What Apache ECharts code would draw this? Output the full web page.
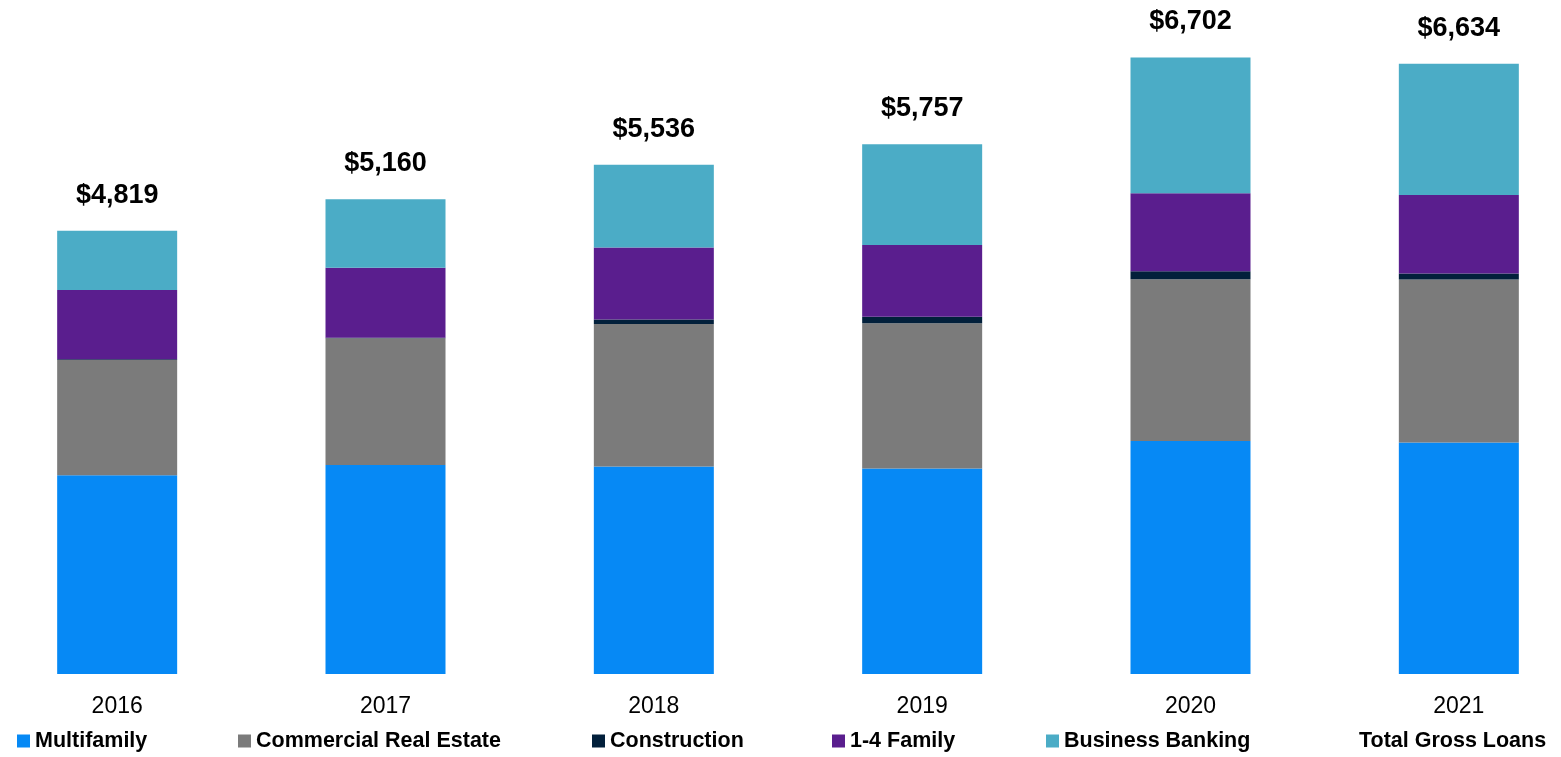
<!DOCTYPE html>
<html>
<head>
<meta charset="utf-8">
<script src="https://cdn.jsdelivr.net/npm/echarts@6/dist/echarts.min.js"></script>
<style>
  html, body { margin: 0; padding: 0; background: #fff; }
  #chart { width: 1561px; height: 757px; }
</style>
</head>
<body>
<div id="chart"></div>
<script>
// loan mix by year ($ millions)
const years = ['2016', '2017', '2018', '2019', '2020', '2021']
const multifamily = [2160, 2272, 2255, 2233, 2533, 2515]
const commercialRealEstate = [1252, 1378, 1549, 1580, 1757, 1773]
const construction = [10, 5, 50, 70, 87, 65]
const oneToFourFamily = [752, 760, 783, 779, 848, 853]
const businessBanking = [645, 745, 899, 1095, 1477, 1428]
const totalGrossLoans = [4819, 5160, 5536, 5757, 6702, 6634]

const font = '"Liberation Sans", Arial, sans-serif'

const chart = echarts.init(document.getElementById('chart'))

function stacked(name, data, color) {
  return {
    name: name,
    type: 'bar',
    stack: 'loans',
    barWidth: 120,
    barGap: '-100%',
    data: data,
    itemStyle: { color: color }
  }
}

function legendAt(name, left) {
  return {
    data: [name],
    left: left,
    top: 730,
    padding: 0,
    itemWidth: 13,
    itemHeight: 13,
    icon: 'rect',
    textStyle: { fontFamily: font, fontWeight: 'bold', fontSize: 21.5, color: '#000' }
  }
}

const option = {
  animation: false,
  grid: { top: 30, bottom: 83, left: -17, right: -32, outerBoundsMode: 'none' },
  legend: [
    legendAt('Multifamily', 17),
    legendAt('Commercial Real Estate', 238),
    legendAt('Construction', 592),
    legendAt('1-4 Family', 832),
    legendAt('Business Banking', 1046),
    legendAt('Total Gross Loans', 1341)
  ],
  xAxis: {
    type: 'category',
    data: years,
    axisLine: { show: false },
    axisTick: { show: false },
    axisLabel: { margin: 21, fontFamily: font, fontSize: 23, color: '#000' }
  },
  yAxis: {
    type: 'value',
    min: 0,
    max: 7000,
    show: false
  },
  series: [
    stacked('Multifamily', multifamily, '#0689F5'),
    stacked('Commercial Real Estate', commercialRealEstate, '#7B7B7B'),
    stacked('Construction', construction, '#02203B'),
    stacked('1-4 Family', oneToFourFamily, '#5A1E8E'),
    stacked('Business Banking', businessBanking, '#4BACC6'),
    {
      name: 'Total Gross Loans',
      type: 'bar',
      barWidth: 120,
      barGap: '-100%',
      z: 1,
      silent: true,
      data: totalGrossLoans,
      itemStyle: { color: 'rgba(0,0,0,0)' },
      label: {
        show: true,
        position: 'top',
        distance: 22,
        fontFamily: font,
        fontWeight: 'bold',
        fontSize: 27,
        color: '#000',
        formatter: p => '$' + p.value.toLocaleString('en-US')
      }
    }
  ]
}

chart.setOption(option)
</script>
</body>
</html>
